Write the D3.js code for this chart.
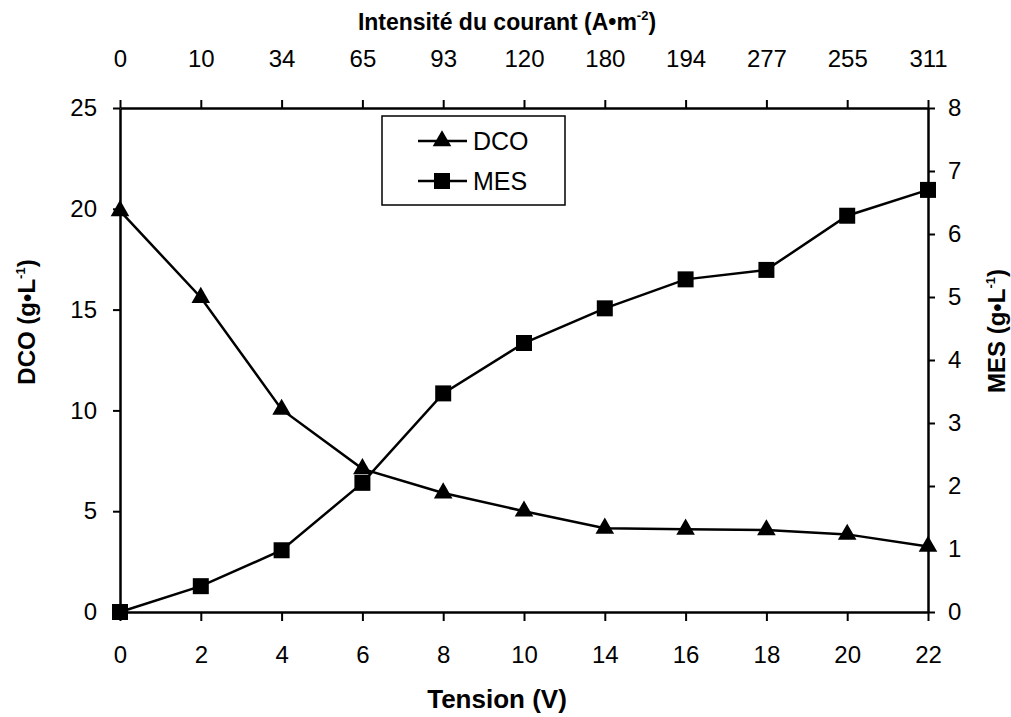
<!DOCTYPE html>
<html><head><meta charset="utf-8">
<script src="https://cdn.jsdelivr.net/npm/d3@7"></script>
<style>
body{margin:0;background:#fff}
svg text{font-family:"Liberation Sans",Arial,sans-serif;fill:#000}
</style>
</head><body>
<svg id="c" width="1011" height="717"></svg>
<script>
// ---- data ----
const tensions = ["0","2","4","6","8","10","14","16","18","20","22"];
const intensities = ["0","10","34","65","93","120","180","194","277","255","311"];
const dco = [19.9,15.6,10.05,7.1,5.9,5.0,4.15,4.1,4.07,3.85,3.25];
const mes = [0,0.41,0.98,2.05,3.47,4.27,4.82,5.28,5.43,6.29,6.70];
const dcoTicks = [0,5,10,15,20,25];
const mesTicks = [0,1,2,3,4,5,6,7,8];

const svg = d3.select("#c");
const L = 120, R = 928, T = 108, B = 612;

const x = d3.scalePoint().domain(tensions).range([L, R]).padding(0);
const yL = d3.scaleLinear().domain([0, 25]).range([B, T]);
const yR = d3.scaleLinear().domain([0, 8]).range([B, T]);

function styleAxis(g, fs) {
  g.selectAll(".domain").attr("stroke", "#000").attr("stroke-width", 2.5);
  g.selectAll(".tick line").attr("stroke", "#000").attr("stroke-width", 2);
  g.selectAll(".tick text").attr("font-size", fs).attr("font-family", '"Liberation Sans",Arial,sans-serif').attr("fill", "#000");
}

// bottom axis
const gB = svg.append("g").attr("transform", `translate(0,${B})`)
  .call(d3.axisBottom(x).tickSize(9).tickSizeOuter(0).tickPadding(25));
styleAxis(gB, 24);

// top axis
const topLabel = new Map(tensions.map((t, i) => [t, intensities[i]]));
const gT = svg.append("g").attr("transform", `translate(0,${T})`)
  .call(d3.axisTop(x).tickSize(8).tickSizeOuter(0).tickPadding(33).tickFormat(d => topLabel.get(d)));
styleAxis(gT, 24);

// left axis
const gL = svg.append("g").attr("transform", `translate(${L},0)`)
  .call(d3.axisLeft(yL).tickValues(dcoTicks).tickSize(7).tickSizeOuter(0).tickPadding(16));
styleAxis(gL, 24);

// right axis
const gR = svg.append("g").attr("transform", `translate(${R},0)`)
  .call(d3.axisRight(yR).tickValues(mesTicks).tickSize(7).tickSizeOuter(0).tickPadding(13));
styleAxis(gR, 24);

// lines
const lineL = d3.line().x((d, i) => x(tensions[i])).y(d => yL(d));
const lineR = d3.line().x((d, i) => x(tensions[i])).y(d => yR(d));

svg.append("path").datum(mes).attr("d", lineR)
  .attr("fill", "none").attr("stroke", "#000").attr("stroke-width", 2.5);
svg.append("path").datum(dco).attr("d", lineL)
  .attr("fill", "none").attr("stroke", "#000").attr("stroke-width", 2.5);

const tri = d3.symbol(d3.symbolTriangle, 150)();
const sq = d3.symbol(d3.symbolSquare, 256)();

svg.append("g").selectAll("path").data(mes).join("path")
  .attr("d", sq).attr("fill", "#000")
  .attr("transform", (d, i) => `translate(${x(tensions[i])},${yR(d)})`);
svg.append("g").selectAll("path").data(dco).join("path")
  .attr("d", tri).attr("fill", "#000")
  .attr("transform", (d, i) => `translate(${x(tensions[i])},${yL(d)})`);

// legend
const lg = svg.append("g");
lg.append("rect").attr("x", 382).attr("y", 116).attr("width", 183).attr("height", 89)
  .attr("fill", "#fff").attr("stroke", "#000").attr("stroke-width", 1.5);
const legendItems = [{name: "DCO", sym: tri, y: 141}, {name: "MES", sym: sq, y: 181}];
legendItems.forEach(it => {
  lg.append("line").attr("x1", 418).attr("x2", 467).attr("y1", it.y).attr("y2", it.y)
    .attr("stroke", "#000").attr("stroke-width", 2.5);
  lg.append("path").attr("d", it.sym).attr("fill", "#000").attr("transform", `translate(442,${it.y})`);
  lg.append("text").attr("x", 473).attr("y", it.y + 9).attr("font-size", 25).text(it.name);
});

// titles
function titleWithSup(sel, base, sup, tail) {
  sel.append("tspan").text(base);
  sel.append("tspan").attr("font-size", 13).attr("dy", -10).text(sup);
  sel.append("tspan").attr("dy", 10).text(tail);
}
const tTop = svg.append("text").attr("x", 507).attr("y", 30).attr("text-anchor", "middle")
  .attr("font-size", 23).attr("font-weight", "bold");
titleWithSup(tTop, "Intensité du courant (A•m", "-2", ")");

svg.append("text").attr("x", 497).attr("y", 708).attr("text-anchor", "middle")
  .attr("font-size", 26).attr("font-weight", "bold").text("Tension (V)");

const tLeft = svg.append("text").attr("transform", "translate(35,322) rotate(-90)")
  .attr("text-anchor", "middle").attr("font-size", 24).attr("font-weight", "bold");
titleWithSup(tLeft, "DCO (g•L", "-1", ")");

const tRight = svg.append("text").attr("transform", "translate(1005,331) rotate(-90)")
  .attr("text-anchor", "middle").attr("font-size", 24).attr("font-weight", "bold");
titleWithSup(tRight, "MES (g•L", "-1", ")");
</script>
</body></html>
